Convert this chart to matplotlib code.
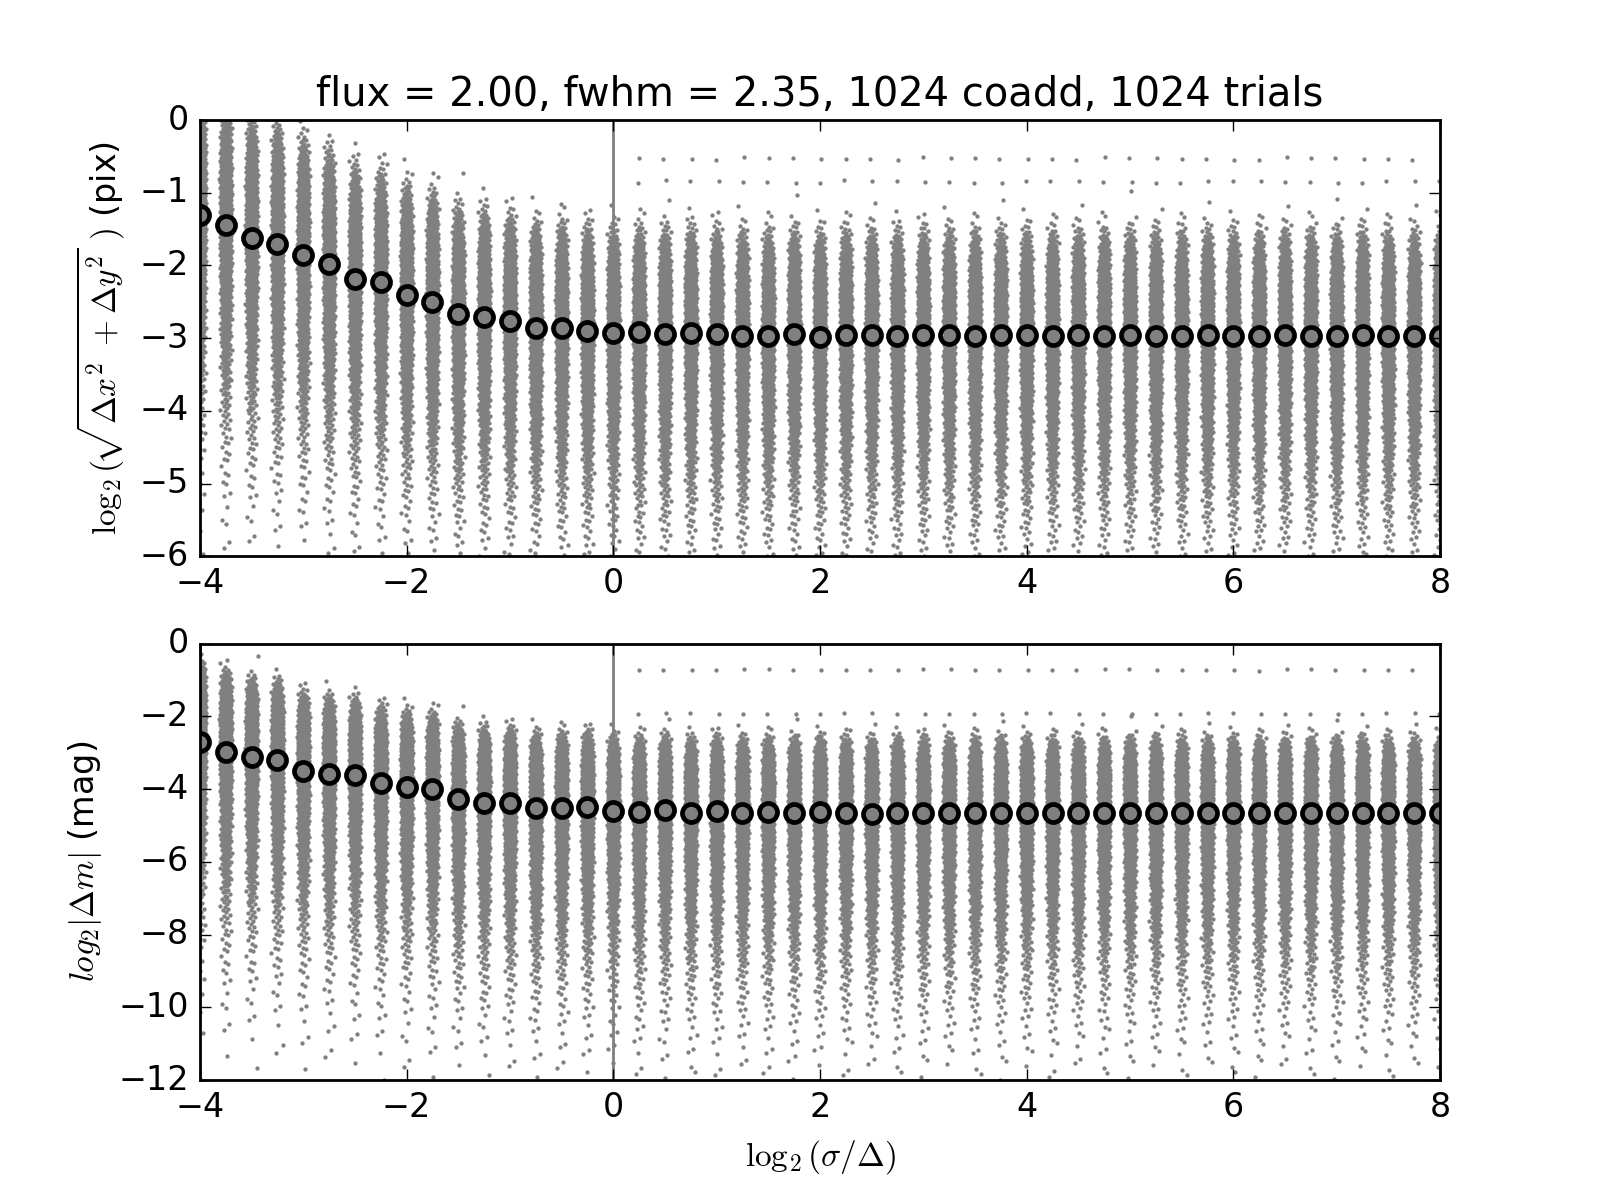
import math
import numpy as np
import matplotlib
matplotlib.use('Agg')
import matplotlib.pyplot as plt

plt.style.use('classic')
plt.rcParams['mathtext.fontset'] = 'cm'
plt.rcParams['figure.facecolor'] = 'white'

# log2(sigma/Delta) grid of the runs
log_sigma = np.arange(-4.0, 8.001, 0.25)

# medians (black circles)
pos_median = [-1.30, -1.45, -1.62, -1.70, -1.85, -1.98, -2.18, -2.23, -2.40, -2.50, -2.67, -2.71, -2.77,
              -2.86, -2.86, -2.90, -2.93,
              -2.92, -2.94, -2.93, -2.94, -2.97, -2.97, -2.94, -2.98, -2.95, -2.96, -2.97, -2.96,
              -2.96, -2.97, -2.96, -2.96,
              -2.97, -2.96, -2.97, -2.96, -2.97, -2.97, -2.96, -2.97, -2.97, -2.96, -2.97, -2.97,
              -2.96, -2.97, -2.97, -2.97]
mag_median = [-2.70, -2.97, -3.13, -3.20, -3.49, -3.58, -3.61, -3.84, -3.94, -3.99, -4.27, -4.37, -4.39,
              -4.53, -4.51, -4.49, -4.61,
              -4.62, -4.58, -4.67, -4.61, -4.67, -4.64, -4.65, -4.64, -4.65, -4.68, -4.65, -4.65,
              -4.65, -4.65, -4.65, -4.65,
              -4.66, -4.66, -4.66, -4.65, -4.66, -4.66, -4.66, -4.66, -4.66, -4.66, -4.66, -4.66,
              -4.66, -4.66, -4.66, -4.66]

# widening of the clouds for the undersampled runs (first columns), 1.0 after that
pos_spread = [1.20, 1.18, 1.16, 1.14, 1.12, 1.10, 1.08, 1.06, 1.05, 1.04, 1.03, 1.02, 1.01]
mag_spread = [1.08, 1.07, 1.06, 1.05, 1.04, 1.03, 1.02, 1.02, 1.01, 1.01]

# isolated rows of outliers seen at the well sampled end
pos_rows = [-0.53, -0.85]
mag_rows = [-0.72, -1.93]
rows_from = 0.25

n_trials = 1024
title = 'flux = 2.00, fwhm = 2.35, 1024 coadd, 1024 trials'

# inverse normal cdf via a lookup table (no scipy)
zgrid = np.linspace(0, 8, 80001)
cdf = 0.5 * (1 + np.vectorize(math.erf)(zgrid / math.sqrt(2)))


def abs_normal_q(p):
    return np.interp((1 + p) / 2, cdf, zgrid)


def normal_q(u):
    z = abs_normal_q(np.abs(2 * u - 1))
    return np.where(u < 0.5, -z, z)


phi = (math.sqrt(5) - 1) / 2
k = np.arange(n_trials)


def cloud(i, median, spread, kind):
    # stratified quantiles, shifted per column so the columns differ
    p = (k + ((k * math.sqrt(2) + i * phi) % 1.0) * 0.98 + 0.01) / n_trials
    if kind == 'rayleigh':
        r = np.sqrt(-2 * np.log(1 - p))
        ref = math.sqrt(2 * math.log(2))
    else:
        r = abs_normal_q(p)
        ref = 0.6745
    y = median + spread * np.log2(r / ref)
    u = (k * phi + i * 0.3713) % 1.0
    dx = np.clip(normal_q(0.02 + 0.96 * u) * 0.03, -0.085, 0.085)
    return dx, y


fig = plt.figure(figsize=(8, 6))
panels = [
    (pos_median, pos_spread, pos_rows, 'rayleigh', (-6, 0),
     r'$\log_2(\!\sqrt{\Delta x^2\ +\Delta y^2}\ )$ (pix)'),
    (mag_median, mag_spread, mag_rows, 'normal', (-12, 0),
     r'$log_2|\Delta m|$ (mag)'),
]

for n, (med, spr, rows, kind, ylim, ylabel) in enumerate(panels):
    ax = fig.add_subplot(2, 1, n + 1)
    px, py = [], []
    for i, x0 in enumerate(log_sigma):
        s = spr[i] if i < len(spr) else 1.0
        dx, y = cloud(i, med[i], s, kind)
        px.append(x0 + dx)
        py.append(y)
        if x0 >= rows_from:
            for j, lev in enumerate(rows):
                px.append(np.array([x0 + 0.04 * (((i + j) * phi) % 1.0 - 0.5)]))
                py.append(np.array([lev + 0.04 * (((i * 3 + j) * phi) % 1.0 - 0.5)]))
    ax.scatter(np.concatenate(px), np.concatenate(py), s=2.4, c='0.5', linewidths=0, zorder=1)
    ax.axvline(0, color='0.5', lw=1, zorder=2)
    ax.plot(log_sigma, med, 'o', mfc='none', mec='k', mew=1.7, ms=6.5, zorder=3)
    ax.set_xlim(-4, 8)
    ax.set_ylim(*ylim)
    ax.set_ylabel(ylabel)
    if n == 0:
        ax.set_title(title, fontsize=14.4)
    else:
        ax.set_xlabel(r'$\log_2(\sigma/\Delta)$')

fig.savefig('out.png', dpi=200, facecolor='white')
